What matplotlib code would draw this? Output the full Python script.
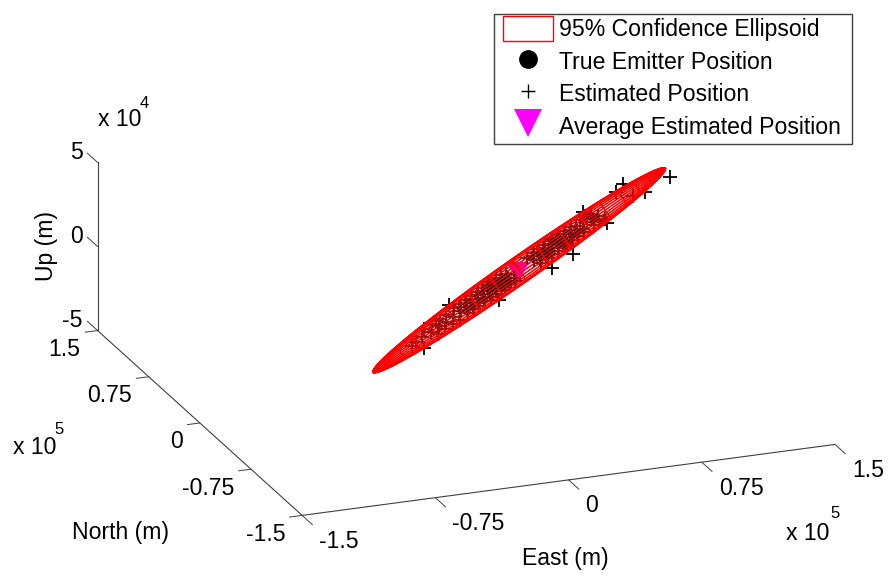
import numpy as np
import matplotlib
matplotlib.use('Agg')
import matplotlib.pyplot as plt
from matplotlib.lines import Line2D
from matplotlib.patches import Patch, Rectangle
from mpl_toolkits.mplot3d import proj3d

plt.rcParams['font.family'] = ['Liberation Sans', 'DejaVu Sans']

# east, north in 1e5 m, up in 1e4 m
east_est = [1.59, 1.40, 1.33, 1.35, 1.28, 1.07, 1.03, 1.03, .76, .59, .19, .31, -.05, -.39, -.19,
            -.29, -.23, -.17, -.12, -.05, .00, .04, .09, .14, .18, .22, .25, .29, .33,
            .54, .59, .63, .68, .73, .75, .80, .84, .89, .97, 1.01, 1.05,
            -.25, -.19, -.13, -.08, -.01, .04, .08, .13, .18, .22, .26, .29, .33, .37,
            .58, .63, .67, .72, .77, .79, .84, .88, .93, 1.01, 1.05, 1.09,
            -.43, -.39, -.34, -.27, -.21, -.15, -.10, -.03, .02, .06, .11, .16, .20, .24, .27, .31, .35,
            .56, .61, .65, .70, .75, .77, .82, .86, .91, .99, 1.03, 1.07,
            -.02, .03, .07, .12, .17, .21, .25, .28, .32, .36, .57, .62, .66, .71, .76, .78, .83, .87, .92,
            0, .05, .09, .14, .19, .23, .27, .30, .34, .38, .59, .64, .68, .73, .78, .80, .85, .89, .94]
north_est = [1.16, 1.03, 1.02, 1.22, 1.14, .73, .86, .97, .41, .28, .02, .29, .12, -.39, -.05,
             -.14, -.09, -.05, -.01, .05, .09, .12, .16, .20, .23, .26, .29, .32, .35,
             .51, .55, .59, .62, .66, .68, .72, .75, .79, .86, .89, .91,
             -.24, -.19, -.15, -.11, -.05, -.01, .02, .06, .10, .13, .16, .19, .22, .25,
             .41, .45, .49, .52, .56, .58, .62, .65, .69, .76, .79, .81,
             -.32, -.28, -.24, -.19, -.14, -.10, -.06, 0, .04, .07, .11, .15, .18, .21, .24, .27, .30,
             .46, .50, .54, .57, .61, .63, .67, .70, .74, .81, .84, .86,
             .05, .09, .12, .16, .20, .23, .26, .29, .32, .35, .51, .55, .59, .62, .66, .68, .72, .75, .79,
             -.01, .03, .06, .10, .14, .17, .20, .23, .26, .29, .45, .49, .53, .56, .60, .62, .66, .69, .73]
up_est = [1.03, .86, .77, .71, .66, .60, .49, .44, .37, .23, -.14, -.12, -.49, -.66, -.58,
          -.60, -.55, -.50, -.46, -.40, -.36, -.32, -.28, -.24, -.20, -.17, -.14, -.11, -.08,
          .10, .14, .18, .22, .26, .28, .32, .36, .40, .47, .50, .53,
          -.60, -.55, -.50, -.46, -.40, -.36, -.32, -.28, -.24, -.20, -.17, -.14, -.11, -.08,
          .10, .14, .18, .22, .26, .28, .32, .36, .40, .47, .50, .53,
          -.74, -.70, -.66, -.60, -.55, -.50, -.46, -.40, -.36, -.32, -.28, -.24, -.20, -.17, -.14, -.11, -.08,
          .10, .14, .18, .22, .26, .28, .32, .36, .40, .47, .50, .53,
          -.38, -.34, -.30, -.26, -.22, -.18, -.15, -.12, -.09, -.06, .12, .16, .20, .24, .28, .30, .34, .38, .42,
          -.38, -.34, -.30, -.26, -.22, -.18, -.15, -.12, -.09, -.06, .12, .16, .20, .24, .28, .30, .34, .38, .42]

avg_pos = [0.42, 0.33, 0.0]
true_pos = [0.30, 0.26, -0.12]

ell_center = [0.44, 0.37, 0.0]
ell_major = [1.18, 0.93, 1.0]
ell_minor1 = [0.023, 0.171, 0.0]
ell_minor2 = [0.05, 0.13, -0.55]

en_ticks = [-1.5, -0.75, 0, 0.75, 1.5]
en_labels = ['-1.5', '-0.75', '0', '0.75', '1.5']
up_ticks = [-5, 0, 5]
up_labels = ['-5', '0', '5']

FS = 16.6
AX_COL = '#404040'

fig = plt.figure(figsize=(8.89, 5.76), dpi=100)
ax = fig.add_axes([-0.2895, -0.3484, 1.6, 1.6], projection='3d', proj_type='ortho', computed_zorder=False)
ax.view_init(elev=20.3, azim=-111)
ax.set_box_aspect((1, 1, 0.314), zoom=0.871)
ax.set_xlim(-1.5, 1.5, view_margin=0)
ax.set_ylim(-1.5, 1.5, view_margin=0)
ax.set_zlim(-5, 5, view_margin=0)
ax.set_axis_off()

# box edges
ax.plot([-1.5, 1.5], [-1.5, -1.5], [-5, -5], color=AX_COL, lw=0.8, zorder=1)
ax.plot([-1.5, -1.5], [-1.5, 1.5], [-5, -5], color=AX_COL, lw=0.8, zorder=1)
ax.plot([-1.5, -1.5], [1.5, 1.5], [-5, 5], color=AX_COL, lw=0.8, zorder=1)


def label_at(x, y, z, s, dx, dy, ha):
    x2, y2, _ = proj3d.proj_transform(x, y, z, ax.get_proj())
    ax.annotate(s, (x2, y2), xytext=(dx * 0.72, -dy * 0.72), textcoords='offset points',
                ha=ha, va='center', fontsize=FS, annotation_clip=False)


for t, s in zip(en_ticks, en_labels):
    ax.plot([t, t], [-1.5, -1.65], [-5, -5], color=AX_COL, lw=0.7, zorder=1)
    label_at(t, -1.5, -5, s, 17, 26, 'left')
    ax.plot([-1.5, -1.57], [t, t], [-5, -5], color=AX_COL, lw=0.7, zorder=1)
    label_at(-1.5, t, -5, s, -17, 19, 'right')
for t, s in zip(up_ticks, up_labels):
    ax.plot([-1.5, -1.5], [1.5, 1.65], [t, t], color=AX_COL, lw=0.7, zorder=1)
    label_at(-1.5, 1.5, t, s, -15, -10, 'right')

# estimates and means sit under the mesh
ax.plot(avg_pos[0], avg_pos[1], avg_pos[2], 'v', color='#ff00ff', ms=16, mew=0, zorder=1.5)
ax.plot(true_pos[0], true_pos[1], true_pos[2], 'o', color='k', ms=5, zorder=2)
ax.plot(east_est, north_est, up_est, '+', color='k', ms=10, mew=1.3, zorder=2)

# 95% ellipsoid
phi = np.linspace(0, np.pi, 161)
theta = np.linspace(0, 2 * np.pi, 29)
P, T = np.meshgrid(phi, theta)
X, Y, Z = [ell_center[i] + ell_major[i] * np.cos(P)
           + np.sin(P) * (ell_minor1[i] * np.cos(T) + ell_minor2[i] * np.sin(T)) for i in range(3)]
ax.plot_wireframe(X, Y, Z, rstride=1, cstride=8, color='#ff0000', lw=0.85, zorder=3)

fig.text(13 / 889, 1 - 448 / 576, 'x 10', fontsize=FS, va='center')
fig.text(54 / 889, 1 - 430 / 576, '5', fontsize=12, va='center')
fig.text(98 / 889, 1 - 120 / 576, 'x 10', fontsize=FS, va='center')
fig.text(140 / 889, 1 - 104 / 576, '4', fontsize=12, va='center')
fig.text(786 / 889, 1 - 533 / 576, 'x 10', fontsize=FS, va='center')
fig.text(830 / 889, 1 - 513 / 576, '5', fontsize=12, va='center')
fig.text(47 / 889, 1 - 246 / 576, 'Up (m)', fontsize=FS, rotation=90, ha='center', va='center')
fig.text(120 / 889, 1 - 533 / 576, 'North (m)', fontsize=FS, ha='center', va='center')
fig.text(565 / 889, 1 - 559 / 576, 'East (m)', fontsize=FS, ha='center', va='center')

fig.add_artist(Rectangle((494 / 889, 1 - 144 / 576), 358 / 889, 130 / 576, transform=fig.transFigure,
                         facecolor='white', edgecolor='#404040', lw=1, zorder=4))
handles = [Patch(facecolor='white', edgecolor='#ff0000', lw=1),
           Line2D([], [], marker='o', color='k', ls='none', ms=12.5),
           Line2D([], [], marker='+', color='k', ls='none', ms=9.5, mew=1),
           Line2D([], [], marker='v', color='#ff00ff', ls='none', ms=20, mew=0)]
names = ['95% Confidence Ellipsoid', 'True Emitter Position', 'Estimated Position', 'Average Estimated Position']
fig.legend(handles, names, loc='upper left', bbox_to_anchor=(503 / 889, 1 - 16 / 576), fontsize=FS,
           frameon=False, handlelength=2.15, handleheight=1.3,
           handletextpad=0.3, labelspacing=0.31, borderpad=0, borderaxespad=0)

fig.savefig('out.png', dpi=100)
